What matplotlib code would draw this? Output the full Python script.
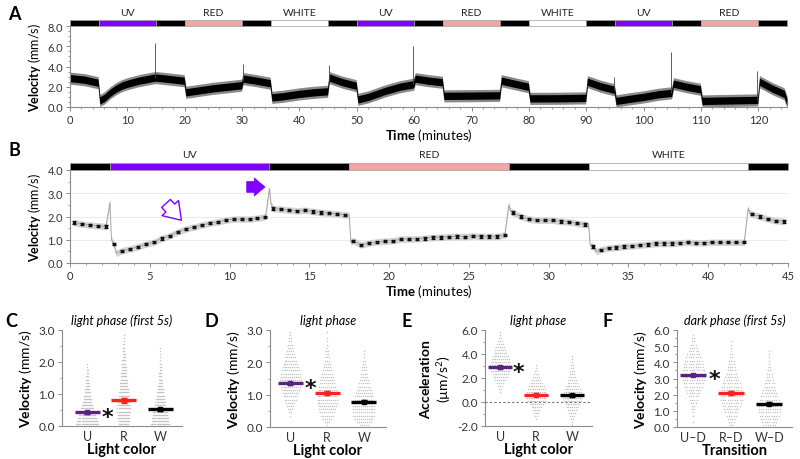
import numpy as np
import matplotlib
matplotlib.use('Agg')
import matplotlib.pyplot as plt
from matplotlib.patches import Rectangle
from matplotlib.transforms import blended_transform_factory, offset_copy
from matplotlib.ticker import MultipleLocator, FormatStrFormatter

plt.rcParams['font.family'] = ['Lato', 'DejaVu Sans']
plt.rcParams['mathtext.fontset'] = 'custom'
plt.rcParams['mathtext.rm'] = 'Lato'
plt.rcParams['mathtext.bf'] = 'Lato:bold'
plt.rcParams['mathtext.it'] = 'Lato:italic'

# --- panel A: whole recording (level of the trace read at key times)
a_phase_edges = [0, 5, 15, 20, 30, 35, 45, 50, 60, 65, 75, 80, 90, 95, 105, 110, 120, 125]
a_phase_names = ['dark', 'UV', 'dark', 'RED', 'dark', 'WHITE', 'dark', 'UV', 'dark',
                 'RED', 'dark', 'WHITE', 'dark', 'UV', 'dark', 'RED', 'dark']
a_time = [0, 2.5, 4.9, 5.2, 6, 7, 8, 9, 10, 12, 14.8, 15.1, 17.5, 19.9, 20.2, 22, 25, 27.5,
          29.9, 30.2, 32.5, 34.9, 35.2, 37, 40, 42.5, 44.9, 45.2, 47.5, 49.9, 50.2, 52, 55,
          57.5, 59.9, 60.2, 62.5, 64.9, 65.2, 70, 74.9, 75.2, 77.5, 79.9, 80.2, 85, 89.9,
          90.2, 92.5, 94.9, 95.2, 97.5, 100, 102.5, 104.9, 105.2, 107.5, 109.9, 110.2, 115,
          119.9, 120.2, 122.5, 124.5, 125]
a_vel = [2.85, 2.7, 2.4, 0.65, 0.9, 1.4, 1.8, 2.1, 2.3, 2.6, 2.9, 2.9, 2.75, 2.6, 1.45, 1.6,
         1.85, 2.0, 2.15, 2.8, 2.6, 2.35, 0.95, 1.05, 1.3, 1.45, 1.55, 2.9, 2.45, 2.1, 0.75,
         1.0, 1.6, 2.0, 2.25, 2.8, 2.6, 2.45, 1.1, 1.12, 1.15, 2.6, 2.3, 2.0, 0.85, 0.86, 0.9,
         2.5, 2.05, 1.7, 0.6, 0.8, 1.0, 1.25, 1.4, 2.3, 2.0, 1.75, 0.6, 0.65, 0.7, 2.5, 1.8,
         1.3, 0.5]
a_spike_t = [14.8, 30.1, 45.1, 59.8, 94.8, 104.8, 119.8]
a_spike_v = [6.3, 4.2, 4.1, 6.0, 3.0, 5.4, 3.6]

# --- panel B: one 45-min sequence, means every 30 s
b_phase_edges = [0, 2.5, 12.5, 17.5, 27.5, 32.5, 42.5, 45]
b_phase_names = ['dark', 'UV', 'dark', 'RED', 'dark', 'WHITE', 'dark']
b_time = np.arange(0.25, 45.0, 0.5)
b_mean = [1.74, 1.67, 1.63, 1.60, 1.57,
          0.81, 0.53, 0.60, 0.70, 0.81, 0.89, 1.06, 1.17, 1.34, 1.46,
          1.54, 1.63, 1.71, 1.77, 1.84, 1.89, 1.89, 1.89, 1.93, 1.99,
          2.34, 2.31, 2.27, 2.24, 2.27, 2.21, 2.17, 2.14, 2.11, 2.07,
          0.96, 0.77, 0.86, 0.91, 0.94, 0.96, 1.03, 1.03, 1.04, 1.06,
          1.10, 1.10, 1.13, 1.14, 1.13, 1.17, 1.14, 1.14, 1.14, 1.21,
          2.17, 2.00, 1.89, 1.84, 1.84, 1.84, 1.79, 1.77, 1.71, 1.66,
          0.71, 0.57, 0.64, 0.67, 0.71, 0.74, 0.77, 0.80, 0.84, 0.84,
          0.84, 0.87, 0.89, 0.87, 0.87, 0.89, 0.89, 0.89, 0.89, 0.89,
          2.10, 2.00, 1.89, 1.81, 1.79]
b_sem = 0.05
# extra trace points at the switches (spikes / dips)
b_edge_t = [2.5, 2.6, 2.9, 12.5, 12.6, 17.5, 17.6, 27.5, 27.6, 32.5, 32.6, 33.0, 42.5, 42.6]
b_edge_v = [2.6, 1.0, 0.42, 3.2, 2.5, 2.05, 0.9, 2.5, 2.25, 1.65, 0.75, 0.5, 2.35, 2.15]

# --- panels C-F: group means, sem and point counts per bin
groups_cde = ['U', 'R', 'W']
groups_f = ['U\u2013D', 'R\u2013D', 'W\u2013D']
c_mean = [0.43, 0.80, 0.52]
c_sem = [0.04, 0.07, 0.05]
c_counts = [
    [22, 20, 18, 16, 14, 13, 11, 9, 8, 7, 6, 5, 4, 4, 3, 3, 2, 2, 1, 1],
    [10, 11, 12, 12, 13, 13, 13, 12, 12, 11, 10, 9, 8, 8, 7, 6, 6, 5, 5, 4, 4, 3, 3, 2, 2, 2, 1, 1, 1],
    [18, 17, 16, 15, 14, 12, 11, 10, 9, 8, 7, 6, 5, 4, 4, 3, 3, 2, 2, 2, 1, 1, 1, 1, 1],
]
d_mean = [1.35, 1.04, 0.78]
d_sem = [0.05, 0.06, 0.05]
d_counts = [
    [0, 0, 0, 1, 2, 3, 4, 5, 7, 8, 9, 10, 11, 12, 12, 11, 11, 10, 9, 8, 7, 6, 5, 4, 3, 3, 2, 2, 1, 1],
    [1, 3, 5, 7, 8, 9, 10, 11, 11, 11, 10, 10, 9, 8, 8, 7, 6, 5, 4, 4, 3, 3, 2, 2, 1, 1, 1, 1, 0, 1],
    [5, 8, 10, 12, 12, 12, 12, 11, 10, 10, 9, 8, 7, 6, 5, 4, 4, 3, 3, 2, 2, 1, 1, 1],
]
e_mean = [2.9, 0.62, 0.55]
e_sem = [0.12, 0.10, 0.10]
e_counts = [
    [0, 0, 0, 0, 0, 0, 0, 0, 0, 0, 0, 1, 2, 3, 4, 6, 8, 9, 11, 12, 12, 11, 10, 9, 7, 6, 5, 4, 3, 2, 1, 1],
    [0, 0, 1, 2, 3, 4, 6, 8, 10, 11, 12, 11, 10, 9, 7, 5, 4, 3, 2, 1, 1],
    [1, 1, 2, 3, 4, 5, 7, 8, 10, 11, 11, 10, 9, 8, 6, 5, 4, 3, 3, 2, 2, 1, 1, 1],
]
f_mean = [3.22, 2.10, 1.43]
f_sem = [0.08, 0.10, 0.10]
f_counts = [
    [0, 1, 0, 1, 1, 2, 2, 3, 4, 5, 6, 7, 8, 9, 10, 10, 10, 10, 9, 9, 8, 7, 6, 5, 4, 3, 2, 2, 1],
    [2, 3, 4, 5, 6, 7, 8, 9, 10, 10, 10, 9, 9, 8, 7, 6, 5, 4, 4, 3, 3, 2, 2, 1, 1, 1, 1],
    [6, 7, 8, 9, 10, 10, 10, 9, 9, 8, 7, 6, 5, 5, 4, 3, 3, 2, 2, 1, 1, 1, 1, 1],
]

phase_colors = {'dark': '#000000', 'UV': '#7f00ff', 'RED': '#f4a4a4', 'WHITE': '#ffffff'}
group_colors = ['#5b2283', '#ff2020', '#000000']

W, H = 800, 460
fig = plt.figure(figsize=(8, 4.6), dpi=100)


def px_axes(left, top, right, bottom):
    return fig.add_axes([left / W, 1 - bottom / H, (right - left) / W, (bottom - top) / H])


def style_axes(ax, size=8):
    for side in ['top', 'right']:
        ax.spines[side].set_visible(False)
    for side in ['left', 'bottom']:
        ax.spines[side].set_color('#8c8c8c')
        ax.spines[side].set_linewidth(0.8)
    ax.tick_params(which='major', direction='out', length=3, width=0.7, color='#8c8c8c',
                   labelsize=size, labelcolor='#333333', pad=2)
    ax.tick_params(which='minor', direction='out', length=1.6, width=0.6, color='#8c8c8c')


def light_bar(ax, edges, names, height):
    trans = blended_transform_factory(ax.transData, ax.transAxes)
    for t0, t1, name in zip(edges[:-1], edges[1:], names):
        ax.add_patch(Rectangle((t0, 1.0), t1 - t0, height, transform=trans,
                               facecolor=phase_colors[name], edgecolor='#a0a0a0',
                               lw=0.5, clip_on=False, zorder=5))
        if name != 'dark':
            ax.text((t0 + t1) / 2, 1.0 + height + 0.04, name, transform=trans,
                    ha='center', va='bottom', fontsize=7.5, color='#222222')


def panel_letter(x, y, s):
    fig.text(x / W, 1 - y / H, s, fontsize=13, fontweight='bold', va='center', ha='left')


# ---------------- A
axA = px_axes(70, 27, 787, 108)
style_axes(axA)
a_t = np.array(a_time)
a_v = np.array(a_vel)
axA.fill_between(a_t, a_v - 0.6, a_v + 0.6, color='#8a8a8a', lw=0)
axA.fill_between(a_t, a_v - 0.36, a_v + 0.36, color='#000000', lw=0)
axA.vlines(a_spike_t, np.interp(a_spike_t, a_t, a_v), a_spike_v, color='#444444', lw=0.6)
axA.set_xlim(0, 125)
axA.set_ylim(0, 8)
axA.xaxis.set_major_locator(MultipleLocator(10))
axA.xaxis.set_minor_locator(MultipleLocator(2))
axA.yaxis.set_major_locator(MultipleLocator(2))
axA.yaxis.set_minor_locator(MultipleLocator(0.5))
axA.yaxis.set_major_formatter(FormatStrFormatter('%.1f'))
axA.set_ylabel(r'$\mathbf{Velocity}$ (mm/s)', fontsize=9, labelpad=3)
axA.set_xlabel(r'$\mathbf{Time}$ (minutes)', fontsize=9.5, labelpad=1)
light_bar(axA, a_phase_edges, a_phase_names, 0.075)
panel_letter(8, 14, 'A')

# ---------------- B
axB = px_axes(70, 171, 788, 264)
style_axes(axB)
axB.grid(axis='y', color='#e6e6e6', lw=0.6)
axB.set_axisbelow(True)
b_trace_t = np.concatenate([b_time, b_edge_t])
b_trace_v = np.concatenate([b_mean, b_edge_v])
order = np.argsort(b_trace_t, kind='stable')
b_trace_t, b_trace_v = b_trace_t[order], b_trace_v[order]
axB.fill_between(b_trace_t, b_trace_v - 0.14, b_trace_v + 0.14, color='#d4d4d4', lw=0)
axB.plot(b_trace_t, b_trace_v, color='#a0a0a0', lw=0.6)
axB.errorbar(b_time, b_mean, yerr=b_sem, fmt='s', ms=1.4, color='#111111',
             ecolor='#111111', elinewidth=0.9, capsize=1.5, capthick=0.9, zorder=4)
axB.annotate('', xy=(7.1, 1.75), xytext=(5.9, 2.65),
             arrowprops=dict(arrowstyle='simple,head_length=0.7,head_width=0.95,tail_width=0.5',
                             fc='white', ec='#7f00ff', lw=1.0, mutation_scale=17))
axB.annotate('', xy=(12.4, 3.27), xytext=(10.9, 3.27),
             arrowprops=dict(arrowstyle='simple,head_length=0.6,head_width=1.0,tail_width=0.6',
                             fc='#7f00ff', ec='#7f00ff', lw=0.5, mutation_scale=13))
axB.set_xlim(0, 45)
axB.set_ylim(0, 4)
axB.xaxis.set_major_locator(MultipleLocator(5))
axB.xaxis.set_minor_locator(MultipleLocator(1))
axB.yaxis.set_major_locator(MultipleLocator(1))
axB.yaxis.set_minor_locator(MultipleLocator(0.5))
axB.yaxis.set_major_formatter(FormatStrFormatter('%.1f'))
axB.set_ylabel(r'$\mathbf{Velocity}$ (mm/s)', fontsize=9, labelpad=3)
axB.set_xlabel(r'$\mathbf{Time}$ (minutes)', fontsize=9.5, labelpad=1)
light_bar(axB, b_phase_edges, b_phase_names, 0.075)
panel_letter(8, 150, 'B')


# ---------------- C-F
def swarm(ax, counts, lo, width, spread):
    top = max(max(c) for c in counts)
    step = spread / top
    for g, cnt in enumerate(counts):
        xs, ys = [], []
        for i, n in enumerate(cnt):
            for k in range(n):
                xs.append(g + (k - (n - 1) / 2) * step)
                ys.append(lo + width * (i + 0.5))
        ax.scatter(xs, ys, s=1.1, color='#c4c4c4', lw=0, zorder=2)


def dot_panel(box, xlim, counts, lo, width, means, sems, labels, ylim, major, minor,
              title, ylabel, xlabel, star_x, spread=0.62):
    ax = px_axes(*box)
    style_axes(ax, size=8.5)
    swarm(ax, counts, lo, width, spread)
    for g, (m, s) in enumerate(zip(means, sems)):
        ax.hlines(m, g - 0.34, g + 0.34, color=group_colors[g], lw=2.4, zorder=4)
        ax.errorbar(g, m, yerr=s, fmt='s', ms=3.2, color=group_colors[g],
                    elinewidth=1.0, capsize=2.5, capthick=1.0, zorder=5)
    star_tr = offset_copy(ax.transData, fig=fig, x=0, y=-3.2, units='points')
    ax.text(star_x, means[0], '*', fontsize=16, fontweight='bold', ha='center',
            va='center', color='#111111', transform=star_tr, family='DejaVu Sans')
    ax.set_xlim(*xlim)
    ax.set_ylim(*ylim)
    ax.set_xticks([0, 1, 2])
    ax.set_xticklabels(labels)
    ax.tick_params(axis='x', length=0, pad=3, labelsize=9)
    ax.yaxis.set_major_locator(MultipleLocator(major))
    ax.yaxis.set_minor_locator(MultipleLocator(minor))
    ax.yaxis.set_major_formatter(FormatStrFormatter('%.1f'))
    ax.set_title(title, fontsize=9, style='italic', pad=4)
    ax.set_ylabel(ylabel, fontsize=10, labelpad=3)
    ax.set_xlabel(xlabel, fontsize=10.5, fontweight='bold', labelpad=0)
    return ax


vel_label = r'$\mathbf{Velocity}$ (mm/s)'
dot_panel((62, 331, 182, 427), (-0.69, 2.6), c_counts, 0.0, 0.1, c_mean, c_sem, groups_cde,
          (0, 3), 1.0, 0.5, 'light phase (first 5s)', vel_label, 'Light color', 0.56)
dot_panel((270, 331, 386, 428), (-0.55, 2.6), d_counts, 0.0, 0.1, d_mean, d_sem, groups_cde,
          (0, 3), 1.0, 0.5, 'light phase', vel_label, 'Light color', 0.55)
axE = dot_panel((485, 331, 592, 427), (-0.42, 2.55), e_counts, -2.0, 0.25, e_mean, e_sem,
                groups_cde, (-2, 6), 2.0, 1.0, 'light phase',
                r'$\mathbf{Acceleration}$' + '\n(\u00b5m/s$^2$)', 'Light color', 0.52)
axE.axhline(0, color='#777777', lw=0.8, ls=(0, (2, 2)), zorder=3)
dot_panel((677, 331, 792, 428), (-0.43, 2.6), f_counts, 0.0, 0.2, f_mean, f_sem, groups_f,
          (0, 6), 1.0, 0.5, 'dark phase (first 5s)', vel_label, 'Transition', 0.56)

panel_letter(5, 322, 'C')
panel_letter(204, 322, 'D')
panel_letter(402, 322, 'E')
panel_letter(603, 322, 'F')

fig.savefig('out.png', dpi=100, facecolor='white')
